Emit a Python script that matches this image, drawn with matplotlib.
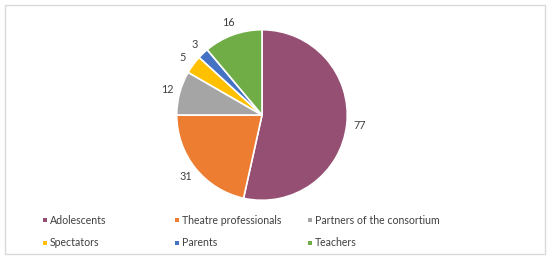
import numpy as np
import matplotlib
matplotlib.use("Agg")
import matplotlib.pyplot as plt
from matplotlib.patches import Rectangle

categories = ["Adolescents", "Theatre professionals", "Partners of the consortium",
              "Spectators", "Parents", "Teachers"]
values = [77, 31, 12, 5, 3, 16]
colors = ["#954F72", "#ED7D31", "#A5A5A5", "#FFC000", "#4472C4", "#70AD47"]

plt.rcParams['font.family'] = ['Lato', 'DejaVu Sans']

W, H = 550, 259
fig = plt.figure(figsize=(W / 100, H / 100), dpi=100)

# pie placement in pixels (center and radius)
cx, cy, r = 262, 115, 82
half = 1.3 * r
ax = fig.add_axes([(cx - half) / W, (H - cy - half) / H, 2 * half / W, 2 * half / H])
ax.set_xlim(-1.3, 1.3)
ax.set_ylim(-1.3, 1.3)
ax.axis('off')

wedges, _ = ax.pie(values, colors=colors, startangle=90, counterclock=False,
                   wedgeprops=dict(edgecolor='white', linewidth=1.2))

for w, v in zip(wedges, values):
    ang = np.deg2rad((w.theta1 + w.theta2) / 2)
    d = 1.15
    ax.text(d * np.cos(ang), d * np.sin(ang), str(v), ha='center', va='center',
            fontsize=7.8, color='#404040')

# legend, drawn in fixed columns
col_x = [45, 177, 310]
row_y = [220, 243]
for i, (name, c) in enumerate(zip(categories, colors)):
    x = col_x[i % 3]
    y = row_y[i // 3]
    fig.add_artist(Rectangle(((x - 2) / W, (H - y - 2) / H), 4 / W, 4 / H,
                             facecolor=c, edgecolor='none', transform=fig.transFigure))
    fig.text((x + 5) / W, (H - y) / H, name, ha='left', va='center',
             fontsize=7.6, color='#404040')

# light frame round the chart
fig.add_artist(Rectangle((5 / W, 5 / H), 540 / W, 249 / H, fill=False,
                         edgecolor='#D9D9D9', linewidth=1, transform=fig.transFigure))

fig.savefig("out.png", dpi=100)
